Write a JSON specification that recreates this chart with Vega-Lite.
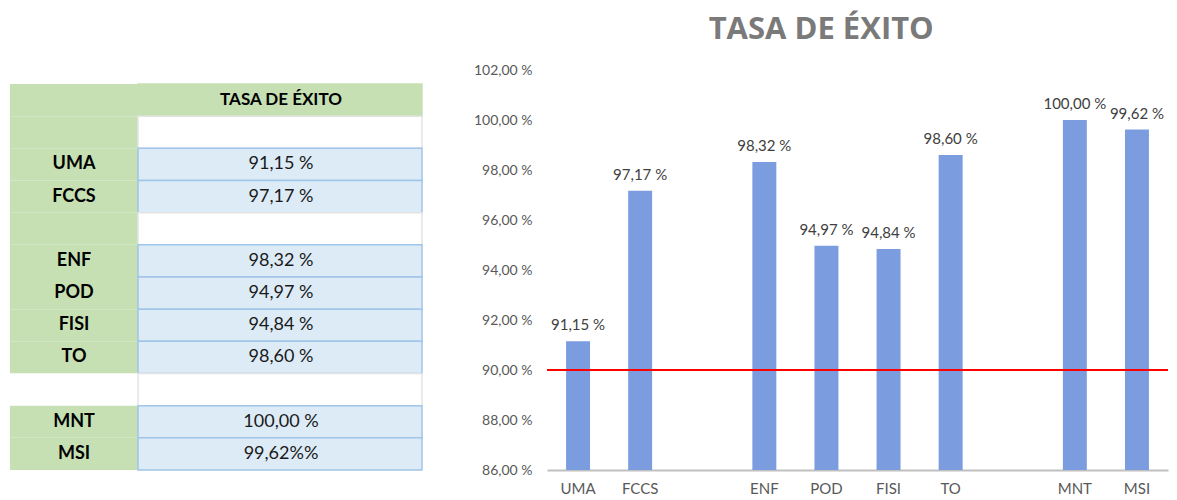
{
  "$schema": "https://vega.github.io/schema/vega-lite/v6.json",
  "background": "white",
  "padding": {"left": 10, "top": 14, "right": 5, "bottom": 5},
  "config": {
    "view": {"stroke": null},
    "font": "Lato",
    "locale": {"number": {"decimal": ",", "thousands": ".", "grouping": [3], "currency": ["", " €"], "percent": " %"}}
  },
  "datasets": {
    "tabla": [
      {"fila": "r01", "etiqueta": "", "texto": "TASA DE ÉXITO", "tipo": "cabecera"},
      {"fila": "r02", "etiqueta": "", "texto": "", "tipo": "vacio"},
      {"fila": "r03", "etiqueta": "UMA", "texto": "91,15 %", "tipo": "dato"},
      {"fila": "r04", "etiqueta": "FCCS", "texto": "97,17 %", "tipo": "dato"},
      {"fila": "r05", "etiqueta": "", "texto": "", "tipo": "vacio"},
      {"fila": "r06", "etiqueta": "ENF", "texto": "98,32 %", "tipo": "dato"},
      {"fila": "r07", "etiqueta": "POD", "texto": "94,97 %", "tipo": "dato"},
      {"fila": "r08", "etiqueta": "FISI", "texto": "94,84 %", "tipo": "dato"},
      {"fila": "r09", "etiqueta": "TO", "texto": "98,60 %", "tipo": "dato"},
      {"fila": "r10", "etiqueta": "", "texto": "", "tipo": "separador"},
      {"fila": "r11", "etiqueta": "MNT", "texto": "100,00 %", "tipo": "dato"},
      {"fila": "r12", "etiqueta": "MSI", "texto": "99,62%%", "tipo": "dato"}
    ],
    "barras": [
      {"centro": "UMA", "tasa": 0.9115},
      {"centro": "FCCS", "tasa": 0.9717},
      {"centro": "ENF", "tasa": 0.9832},
      {"centro": "POD", "tasa": 0.9497},
      {"centro": "FISI", "tasa": 0.9484},
      {"centro": "TO", "tasa": 0.9860},
      {"centro": "MNT", "tasa": 1.0},
      {"centro": "MSI", "tasa": 0.9962}
    ]
  },
  "bounds": "flush",
  "spacing": 125,
  "hconcat": [
    {
      "width": 412,
      "height": 400,
      "data": {"name": "tabla"},
      "encoding": {
        "y": {"field": "fila", "type": "nominal", "sort": null, "axis": null,
          "scale": {"domain": ["r01","r02","r03","r04","r05","r06","r07","r08","r09","r10","r11","r12"], "paddingInner": 0, "paddingOuter": 0.217, "align": 1}}
      },
      "layer": [
        {
          "mark": {"type": "rect"},
          "encoding": {
            "x": {"datum": 0, "type": "quantitative", "scale": {"domain": [0, 412], "nice": false, "zero": false}, "axis": null},
            "x2": {"datum": 128},
            "color": {"field": "tipo", "type": "nominal", "legend": null,
              "scale": {"domain": ["cabecera", "vacio", "dato", "separador"], "range": ["#c6e0b4", "#c6e0b4", "#c6e0b4", "#ffffff"]}}
          }
        },
        {
          "mark": {"type": "rect", "strokeWidth": 1.5},
          "encoding": {
            "x": {"datum": 128, "type": "quantitative"},
            "x2": {"datum": 412},
            "fill": {"field": "tipo", "type": "nominal", "legend": null,
              "scale": {"domain": ["cabecera", "vacio", "dato", "separador"], "range": ["#c6e0b4", "#ffffff", "#ddebf7", "#ffffff"]}},
            "stroke": {"field": "tipo", "type": "nominal", "legend": null,
              "scale": {"domain": ["cabecera", "vacio", "dato", "separador"], "range": ["#c6e0b4", "#e3e3e3", "#9fc5e8", "#e3e3e3"]}}
          }
        },
        {
          "mark": {"type": "text", "fontWeight": "bold", "fontSize": 18, "color": "#000000"},
          "encoding": {
            "x": {"datum": 64, "type": "quantitative"},
            "text": {"field": "etiqueta"}
          }
        },
        {
          "transform": [{"filter": "datum.tipo === 'cabecera'"}],
          "mark": {"type": "text", "fontWeight": "bold", "fontSize": 17, "color": "#000000"},
          "encoding": {
            "x": {"datum": 271, "type": "quantitative"},
            "text": {"field": "texto"}
          }
        },
        {
          "transform": [{"filter": "datum.tipo !== 'cabecera'"}],
          "mark": {"type": "text", "fontSize": 18, "color": "#1a1a1a"},
          "encoding": {
            "x": {"datum": 271, "type": "quantitative"},
            "text": {"field": "texto"}
          }
        }
      ],
      "resolve": {"scale": {"color": "independent", "fill": "independent"}}
    },
    {
      "width": 621,
      "height": 400,
      "data": {"name": "barras"},
      "title": {"text": "TASA DE ÉXITO", "font": "Open Sans", "fontSize": 31, "fontWeight": "bold", "color": "#7a7a7a", "anchor": "middle", "frame": "bounds", "offset": 17},
      "encoding": {
        "x": {"field": "centro", "type": "nominal", "sort": null, "title": null,
          "scale": {"domain": ["UMA", "FCCS", " ", "ENF", "POD", "FISI", "TO", "  ", "MNT", "MSI"], "paddingInner": 0.614, "paddingOuter": 0.307},
          "axis": {"labelAngle": 0, "labelFontSize": 15, "labelColor": "#595959", "ticks": false, "domainColor": "#c0c0c0", "domainWidth": 2, "labelPadding": 11}},
        "y": {"field": "tasa", "type": "quantitative", "title": null,
          "scale": {"domain": [0.86, 1.02], "zero": false, "nice": false},
          "axis": {"values": [0.86, 0.88, 0.9, 0.92, 0.94, 0.96, 0.98, 1.0, 1.02], "format": ".2%", "labelFontSize": 14, "labelColor": "#595959", "ticks": false, "domain": false, "grid": false, "labelPadding": 15}}
      },
      "layer": [
        {"mark": {"type": "bar", "color": "#7b9de0", "clip": true}},
        {"mark": {"type": "text", "baseline": "bottom", "dy": -8, "fontSize": 15, "color": "#404040"},
          "encoding": {"text": {"field": "tasa", "type": "quantitative", "format": ".2%"}}},
        {"mark": {"type": "rule", "color": "#ff0000", "strokeWidth": 2},
          "encoding": {"x": null, "y": {"datum": 0.9, "type": "quantitative"}}}
      ]
    }
  ]
}
